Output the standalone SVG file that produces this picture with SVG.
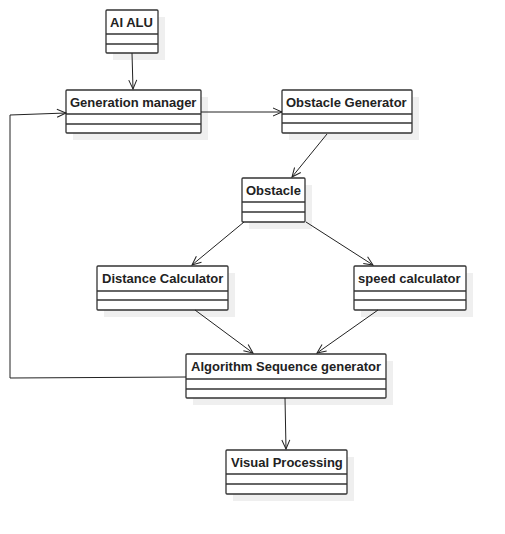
<svg xmlns="http://www.w3.org/2000/svg" width="505" height="534" viewBox="0 0 505 534">
<style>
.sh{fill:#efefef;stroke:none}
.bx{fill:#fff;stroke:#333;stroke-width:1.3}
.dv{stroke:#333;stroke-width:1.3;fill:none}
.t{font-family:"Liberation Sans",Arial,sans-serif;font-weight:bold;font-size:13px;fill:#222}
.c{stroke:#222;stroke-width:1;fill:none}
</style>
<defs>
<marker id="a" markerWidth="12" markerHeight="12" refX="10" refY="5" orient="auto" markerUnits="userSpaceOnUse">
<path d="M1,1 L10,5 L1,9" fill="none" stroke="#222" stroke-width="1"/>
</marker>
</defs>
<rect width="505" height="534" fill="#fff"/>
<g id="ai-alu">
<rect class="sh" x="113" y="17" width="52" height="43"/>
<rect class="bx" x="106" y="10" width="52" height="43" rx="1"/>
<line class="dv" x1="106" y1="34" x2="158" y2="34"/>
<line class="dv" x1="106" y1="44" x2="158" y2="44"/>
<text class="t" x="110" y="27">AI ALU</text>
</g>
<g id="generation-manager">
<rect class="sh" x="73" y="97" width="135" height="43"/>
<rect class="bx" x="66" y="90" width="135" height="43" rx="1"/>
<line class="dv" x1="66" y1="114" x2="201" y2="114"/>
<line class="dv" x1="66" y1="124" x2="201" y2="124"/>
<text class="t" x="70" y="107">Generation manager</text>
</g>
<g id="obstacle-generator">
<rect class="sh" x="289" y="97" width="130" height="43"/>
<rect class="bx" x="282" y="90" width="130" height="43" rx="1"/>
<line class="dv" x1="282" y1="114" x2="412" y2="114"/>
<line class="dv" x1="282" y1="123" x2="412" y2="123"/>
<text class="t" x="286" y="107">Obstacle Generator</text>
</g>
<g id="obstacle">
<rect class="sh" x="249" y="185" width="63" height="44"/>
<rect class="bx" x="242" y="178" width="63" height="44" rx="1"/>
<line class="dv" x1="242" y1="202" x2="305" y2="202"/>
<line class="dv" x1="242" y1="212" x2="305" y2="212"/>
<text class="t" x="246" y="195">Obstacle</text>
</g>
<g id="distance-calculator">
<rect class="sh" x="104" y="273" width="131" height="44"/>
<rect class="bx" x="97" y="266" width="131" height="44" rx="1"/>
<line class="dv" x1="97" y1="291" x2="228" y2="291"/>
<line class="dv" x1="97" y1="300" x2="228" y2="300"/>
<text class="t" x="102" y="283">Distance Calculator</text>
</g>
<g id="speed-calculator">
<rect class="sh" x="361" y="273" width="112" height="44"/>
<rect class="bx" x="354" y="266" width="112" height="44" rx="1"/>
<line class="dv" x1="354" y1="291" x2="466" y2="291"/>
<line class="dv" x1="354" y1="300" x2="466" y2="300"/>
<text class="t" x="358" y="283">speed calculator</text>
</g>
<g id="algorithm-sequence-generator">
<rect class="sh" x="193" y="361" width="200" height="44"/>
<rect class="bx" x="186" y="354" width="200" height="44" rx="1"/>
<line class="dv" x1="186" y1="379" x2="386" y2="379"/>
<line class="dv" x1="186" y1="389" x2="386" y2="389"/>
<text class="t" x="191" y="371">Algorithm Sequence generator</text>
</g>
<g id="visual-processing">
<rect class="sh" x="233" y="457" width="121" height="44"/>
<rect class="bx" x="226" y="450" width="121" height="44" rx="1"/>
<line class="dv" x1="226" y1="474" x2="347" y2="474"/>
<line class="dv" x1="226" y1="484" x2="347" y2="484"/>
<text class="t" x="231" y="467">Visual Processing</text>
</g>
<g id="connectors">
<line class="c" x1="132" y1="53" x2="133" y2="89" marker-end="url(#a)"/>
<line class="c" x1="201" y1="112" x2="282" y2="112" marker-end="url(#a)"/>
<line class="c" x1="327" y1="134" x2="292" y2="177" marker-end="url(#a)"/>
<line class="c" x1="244" y1="222" x2="192" y2="265" marker-end="url(#a)"/>
<line class="c" x1="306" y1="222" x2="373" y2="265" marker-end="url(#a)"/>
<line class="c" x1="195" y1="310" x2="253" y2="353" marker-end="url(#a)"/>
<line class="c" x1="378" y1="310" x2="317" y2="353" marker-end="url(#a)"/>
<line class="c" x1="285" y1="398" x2="286" y2="449" marker-end="url(#a)"/>
<polyline class="c" points="186,377 10,378 10,115 66,113" marker-end="url(#a)"/>
</g>
</svg>
